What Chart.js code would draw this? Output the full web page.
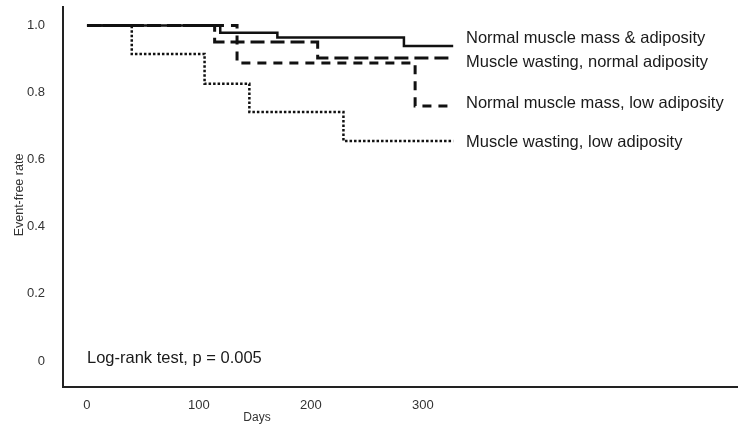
<!DOCTYPE html>
<html>
<head>
<meta charset="utf-8">
<script src="https://cdn.jsdelivr.net/npm/chart.js@4.4.1/dist/chart.umd.min.js"></script>
<style>
  html, body { margin: 0; padding: 0; background: #fff; }
  #wrap { width: 739px; height: 432px; }
</style>
</head>
<body>
<div id="wrap"><canvas id="kmChart" width="739" height="432"></canvas></div>
<script>
// ---------------------------------------------------------------
// data (days, event-free rate)
// ---------------------------------------------------------------
const seriesNames = [
  'Normal muscle mass & adiposity',
  'Muscle wasting, normal adiposity',
  'Normal muscle mass, low adiposity',
  'Muscle wasting, low adiposity'
];
const normalDays = [0, 119, 170, 283, 327];
const normalRate = [1, 0.978, 0.964, 0.939, 0.939];

const wastingDays = [0, 114, 206, 327];
const wastingRate = [1, 0.951, 0.903, 0.903];

const lowAdipDays = [0, 134, 293, 327];
const lowAdipRate = [1, 0.888, 0.760, 0.760];

const bothDays = [0, 40, 105, 145, 229, 327];
const bothRate = [1, 0.915, 0.826, 0.742, 0.656, 0.656];

const xTicks = [0, 100, 200, 300];
const yTicks = [0, 0.2, 0.4, 0.6, 0.8, 1.0];
const yTickLabels = ['0', '0.2', '0.4', '0.6', '0.8', '1.0'];

const noteText = 'Log-rank test, p = 0.005';
const xTitle = 'Days';
const yTitle = 'Event-free rate';

// ---------------------------------------------------------------
// helpers
// ---------------------------------------------------------------
function toPoints(days, rate) {
  return days.map((d, i) => ({ x: d, y: rate[i] }));
}

function kmSet(label, days, rate, dash, width) {
  return {
    label: label,
    data: toPoints(days, rate),
    borderColor: '#111',
    borderWidth: width,
    borderDash: dash,
    stepped: 'before',   // horizontal first, then drop (KM style)
    pointRadius: 0,
    fill: false
  };
}

// the tick labels sit inside the axis range, so no extra edge padding
function noEdgePadding(s) {
  s.paddingTop = 0; s.paddingBottom = 0;
  s.paddingLeft = 0; s.paddingRight = 0;
}

const FONT = '"Liberation Sans", Arial, sans-serif';

// free text: labels beside the curves, note, axis titles
const textPlugin = {
  id: 'kmText',
  afterDraw(chart) {
    const ctx = chart.ctx;
    ctx.save();
    ctx.fillStyle = '#1a1a1a';
    ctx.textBaseline = 'middle';
    ctx.textAlign = 'left';
    ctx.font = '16.5px ' + FONT;
    const labelY = [38, 62, 103, 142];
    seriesNames.forEach((name, i) => ctx.fillText(name, 466, labelY[i]));

    ctx.fillText(noteText, 87, 358);

    ctx.fillStyle = '#333';
    ctx.textAlign = 'center';
    ctx.font = '12px ' + FONT;
    ctx.fillText(xTitle, 257, 418);

    ctx.translate(20, 195);
    ctx.rotate(-Math.PI / 2);
    ctx.font = '12.5px ' + FONT;
    ctx.fillText(yTitle, 0, 0);
    ctx.restore();
  }
};

// ---------------------------------------------------------------
// chart
// ---------------------------------------------------------------
new Chart(document.getElementById('kmChart'), {
  type: 'line',
  data: {
    datasets: [
      kmSet(seriesNames[0], normalDays, normalRate, [], 2.5),
      kmSet(seriesNames[1], wastingDays, wastingRate, [14, 6], 3),
      kmSet(seriesNames[2], lowAdipDays, lowAdipRate, [9, 7], 3),
      kmSet(seriesNames[3], bothDays, bothRate, [2.5, 2], 2.5)
    ]
  },
  options: {
    responsive: false,
    animation: false,
    layout: { padding: { top: 7, right: 2, left: 0, bottom: 0 } },
    plugins: { legend: { display: false }, tooltip: { enabled: false } },
    scales: {
      x: {
        type: 'linear',
        min: -21.4,
        max: 580.4,
        grid: { display: false },
        border: { display: true, color: '#222', width: 2 },
        afterBuildTicks: s => { s.ticks = xTicks.map(v => ({ value: v })); },
        afterFit: s => { s.height = 45; noEdgePadding(s); },
        ticks: { padding: 3, color: '#333', font: { family: FONT, size: 13 } }
      },
      y: {
        type: 'linear',
        min: -0.0775,
        max: 1.055,
        grid: { display: false },
        border: { display: true, color: '#222', width: 2 },
        afterBuildTicks: s => { s.ticks = yTicks.map(v => ({ value: v })); },
        afterFit: s => { s.width = 63; noEdgePadding(s); },
        ticks: {
          padding: 10,
          color: '#333',
          font: { family: FONT, size: 13 },
          callback: v => yTickLabels[yTicks.indexOf(v)]
        }
      }
    }
  },
  plugins: [textPlugin]
});
</script>
</body>
</html>
